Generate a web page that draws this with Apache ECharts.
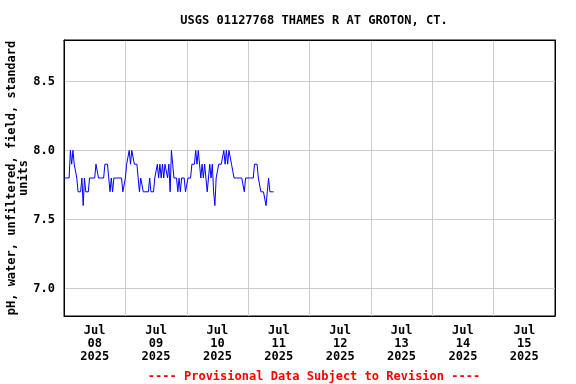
<!DOCTYPE html>
<html>
<head>
<meta charset="utf-8">
<script src="https://cdn.jsdelivr.net/npm/echarts@6/dist/echarts.min.js"></script>
<style>html,body{margin:0;padding:0;background:#fff}#c{width:576px;height:384px}</style>
</head>
<body>
<div id="c"></div>
<script>
var titleText = 'USGS 01127768 THAMES R AT GROTON, CT.';
var footerText = '---- Provisional Data Subject to Revision ----';
var yAxisName = 'pH, water, unfiltered, field, standard\nunits';
var dayLabels = ['Jul\n08\n2025','Jul\n09\n2025','Jul\n10\n2025','Jul\n11\n2025','Jul\n12\n2025','Jul\n13\n2025','Jul\n14\n2025','Jul\n15\n2025'];
var yTicks = [7.0, 7.5, 8.0, 8.5];
var seriesStart = '2025-07-08T00:00:00Z';
var stepMinutes = 30;
// pH readings every 30 minutes from Jul 08 00:00
var phJul08 = [7.8,7.8,7.8,7.8,7.8,8.0,7.9,8.0,7.9,7.9,7.8,7.7,7.7,7.7,7.8,7.6,7.8,7.7,7.7,7.7,
  7.8,7.8,7.8,7.8,7.8,7.9,7.9,7.8,7.8,7.8,7.8,7.8,7.9,7.9,7.9,7.8,7.7,7.8,7.7,
  7.8,7.8,7.8,7.8,7.8,7.8,7.8,7.7,7.7];
var phJul09 = [7.8,7.9,7.9,8.0,7.9,8.0,8.0,7.9,7.9,7.9,7.8,7.7,7.8,7.8,7.7,7.7,7.7,7.7,7.7,7.8,
  7.7,7.7,7.7,7.8,7.8,7.9,7.8,7.9,7.8,7.9,7.8,7.9,7.9,7.8,7.9,7.7,8.0,7.9,7.8,7.8,7.8,
  7.7,7.8,7.7,7.8,7.8,7.8,7.7];
var phJul10 = [7.7,7.8,7.8,7.8,7.9,7.9,7.9,8.0,7.9,8.0,7.9,7.8,7.9,7.8,7.9,7.8,7.7,7.7,
  7.9,7.8,7.9,7.7,7.6,7.8,7.8,7.9,7.9,7.9,7.9,8.0,7.9,8.0,7.9,8.0,8.0,7.9,7.9,
  7.8,7.8,7.8,7.8,7.8,7.8,7.8,7.8,7.7,7.8,7.8];
var phJul11 = [7.8,7.8,7.8,7.8,7.8,7.9,7.9,7.9,7.8,7.8,7.7,7.7,7.7,7.7,7.6,7.7,7.8,7.7,7.7,7.7,7.7];

var phValues = phJul08.concat(phJul09, phJul10, phJul11);
var t0 = Date.parse(seriesStart);
var points = phValues.map(function (v, i) { return [t0 + i * stepMinutes * 60000, v]; });

var mono = 'DejaVu Sans Mono';
var blackLine = {show: true, lineStyle: {color: '#000', width: 1}};
var chart = echarts.init(document.getElementById('c'), null, {renderer: 'canvas'});
chart.setOption({
  animation: false,
  useUTC: true,
  backgroundColor: '#fff',
  title: [
    {text: titleText, left: 309, top: 10, textAlign: 'center',
     textStyle: {fontFamily: mono, fontWeight: 'bold', fontSize: 12, color: '#000'}},
    {text: footerText, left: 309, top: 366, textAlign: 'center',
     textStyle: {fontFamily: mono, fontWeight: 'bold', fontSize: 12, color: '#ff0000'}}
  ],
  grid: {left: 64, right: 21, top: 40, bottom: 68, containLabel: false, outerBoundsMode: 'none',
    show: true, borderColor: '#000', borderWidth: 1, backgroundColor: '#fff'},
  xAxis: [
    {type: 'time', show: false, min: Date.parse('2025-07-08T00:00:00Z'), max: Date.parse('2025-07-16T00:00:00Z')},
    {type: 'category', data: dayLabels, boundaryGap: true, position: 'bottom',
     axisLine: blackLine, axisTick: {show: false},
     splitLine: {show: true, lineStyle: {color: '#cccccc', width: 1}},
     axisLabel: {margin: 8, lineHeight: 13, fontFamily: mono, fontWeight: 'bold', fontSize: 12, color: '#000'}},
    {type: 'category', data: dayLabels, boundaryGap: true, position: 'top',
     axisLine: blackLine, axisTick: {show: false}, axisLabel: {show: false}, splitLine: {show: false}}
  ],
  yAxis: [{
    type: 'value', min: 6.8, max: 8.8,
    name: yAxisName, nameLocation: 'middle', nameGap: 34, nameRotate: 90, nameMoveOverlap: false,
    nameTextStyle: {fontFamily: mono, fontWeight: 'bold', fontSize: 12, color: '#000', lineHeight: 12, align: 'center'},
    axisLine: blackLine, axisTick: {show: false, customValues: yTicks},
    axisLabel: {customValues: yTicks, margin: 9, fontFamily: mono, fontWeight: 'bold', fontSize: 12, color: '#000',
      formatter: function (v) { return v.toFixed(1); }},
    splitLine: {show: true, lineStyle: {color: '#cccccc', width: 1}}
  }, {
    type: 'value', min: 6.8, max: 8.8, position: 'right',
    axisLine: blackLine, axisTick: {show: false}, axisLabel: {show: false}, splitLine: {show: false}
  }],
  series: [{
    type: 'line', xAxisIndex: 0, yAxisIndex: 0, data: points, showSymbol: false, symbol: 'none',
    lineStyle: {color: '#0000ff', width: 1}, itemStyle: {color: '#0000ff'}
  }]
});
</script>
</body>
</html>
